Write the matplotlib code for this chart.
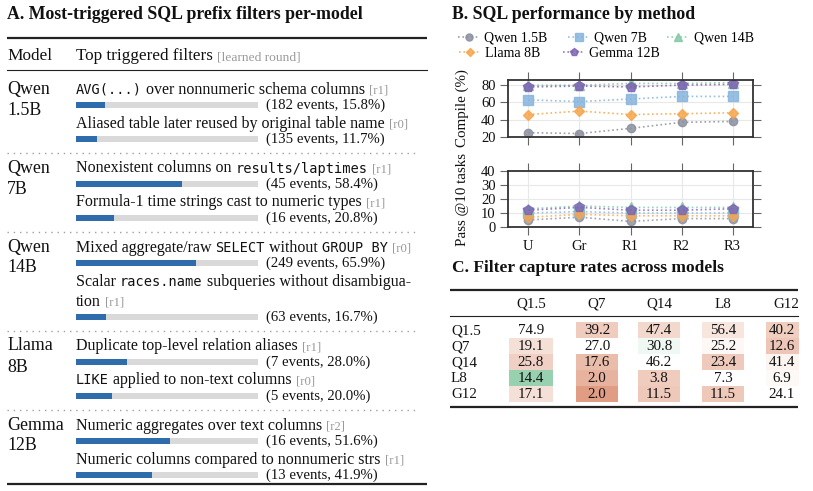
import matplotlib
matplotlib.use('Agg')
import matplotlib.pyplot as plt
from matplotlib.colors import LinearSegmentedColormap, TwoSlopeNorm
from matplotlib.patches import Rectangle
from matplotlib.font_manager import FontProperties
import numpy as np

SERIF = 'Liberation Serif'
MONO = 'DejaVu Sans Mono'
plt.rcParams['font.family'] = [SERIF, 'DejaVu Sans']

# ---------------- Panel A data ----------------
model_names = ["Qwen\n1.5B", "Qwen\n7B", "Qwen\n14B", "Llama\n8B", "Gemma\n12B"]
filter_texts = [
    "`AVG(...)` over nonnumeric schema columns",
    "Aliased table later reused by original table name",
    "Nonexistent columns on `results/laptimes`",
    "Formula-1 time strings cast to numeric types",
    "Mixed aggregate/raw `SELECT` without `GROUP BY`",
    "Scalar `races.name` subqueries without disambigua-\ntion",
    "Duplicate top-level relation aliases",
    "`LIKE` applied to non-text columns",
    "Numeric aggregates over text columns",
    "Numeric columns compared to nonnumeric strs",
]
filter_rounds = ["r1", "r0", "r1", "r1", "r0", "r1", "r1", "r0", "r2", "r1"]
filter_events = [182, 135, 45, 16, 249, 63, 7, 5, 16, 13]
filter_pcts = [15.8, 11.7, 58.4, 20.8, 65.9, 16.7, 28.0, 20.0, 51.6, 41.9]

# ---------------- Panel B data ----------------
methods = ["U", "Gr", "R1", "R2", "R3"]
series_names = ["Qwen 1.5B", "Qwen 7B", "Qwen 14B", "Llama 8B", "Gemma 12B"]
compile_q15 = [25, 24, 30, 37, 38]
compile_q7 = [63, 61, 64, 67, 67]
compile_q14 = [80, 80, 82, 82, 83]
compile_l8 = [46, 50, 46, 47, 48]
compile_g12 = [78, 79, 78, 80, 81]
pass_q15 = [5, 7, 4, 6, 6]
pass_q7 = [10, 11, 10, 10, 10]
pass_q14 = [13, 15, 14, 14, 14]
pass_l8 = [7, 9, 8, 8, 8]
pass_g12 = [12, 14, 12, 12, 13]

# ---------------- Panel C data ----------------
cap_labels = ["Q1.5", "Q7", "Q14", "L8", "G12"]
cap_q15 = [74.9, 39.2, 47.4, 56.4, 40.2]
cap_q7 = [19.1, 27.0, 30.8, 25.2, 12.6]
cap_q14 = [25.8, 17.6, 46.2, 23.4, 41.4]
cap_l8 = [14.4, 2.0, 3.8, 7.3, 6.9]
cap_g12 = [17.1, 2.0, 11.5, 11.5, 24.1]

W, H = 813, 491
fig = plt.figure(figsize=(W / 100, H / 100), dpi=100)
fig.patch.set_facecolor('white')
renderer = fig.canvas.get_renderer()

ov = fig.add_axes([0, 0, 1, 1])
ov.set_xlim(0, W)
ov.set_ylim(H, 0)
ov.axis('off')

TXT = '#111111'
GRAY = '#9a9a9a'
BODY = 11.5
CODE = 9.8
TAG = 9.2
TITLE = 12.8


def fp_for(kind, size):
    if kind == 'c':
        return FontProperties(family=MONO, size=CODE)
    if kind == 'g':
        return FontProperties(family=SERIF, size=TAG)
    return FontProperties(family=SERIF, size=size)


def text_width(s, fp):
    w1, _, _ = renderer.get_text_width_height_descent('|' + s + '|', fp, ismath=False)
    w0, _, _ = renderer.get_text_width_height_descent('||', fp, ismath=False)
    return w1 - w0


def parse(s):
    parts = s.split('`')
    segs = []
    for i, p in enumerate(parts):
        if p:
            segs.append((p, 'c' if i % 2 else 'n'))
    return segs


def draw_segs(x, y, segs, size):
    for txt, kind in segs:
        fp = fp_for(kind, size)
        ov.text(x, y, txt, va='baseline', ha='left', fontproperties=fp,
                color=GRAY if kind == 'g' else TXT)
        x += text_width(txt, fp)
    return x


# ---------------- Panel A ----------------
ov.text(7, 14, "A. Most-triggered SQL prefix filters per-model", fontsize=TITLE,
        fontweight='bold', va='center', ha='left', color=TXT)
ov.plot([7, 427], [38, 38], color='#222', lw=1.6, solid_capstyle='butt')
ov.text(7, 60, "Model", fontsize=12.4, va='baseline', ha='left', color=TXT)
xh = draw_segs(76, 60, [("Top triggered filters ", 'n')], 12.3)
ov.text(xh, 60, "[learned round]", fontsize=9.7, va='baseline', ha='left', color=GRAY)
ov.plot([7, 427], [70, 70], color='#222', lw=0.8)

axbar = fig.add_axes([76 / W, 0, 182 / W, 1])
axbar.set_xlim(0, 100)
axbar.set_ylim(H, 0)
axbar.axis('off')

r = 88
for m in range(len(model_names)):
    top, bot = model_names[m].split('\n')
    ov.text(7, r + 5.5, top, fontsize=12.9, va='baseline', ha='left', color=TXT)
    ov.text(7, r + 26.5, bot, fontsize=12.9, va='baseline', ha='left', color=TXT)
    y = r
    for k in range(2):
        i = 2 * m + k
        lines = filter_texts[i].split('\n')
        for li, line in enumerate(lines):
            segs = parse(line)
            if li == len(lines) - 1:
                segs = segs + [(" ", 'n')]
                xe = draw_segs(76, y + 5.5, segs, BODY)
                draw_segs(xe, y + 5.5, [("[" + filter_rounds[i] + "]", 'g')], BODY)
            else:
                draw_segs(76, y + 5.5, segs, BODY)
                y += 20
        yb = y + 17
        axbar.barh(yb, 100, height=6, color='#d9d9d9', lw=0)
        axbar.barh(yb, filter_pcts[i], height=6, color='#2f6cab', lw=0)
        ov.text(266, yb + 4, f"({filter_events[i]} events, {filter_pcts[i]:.1f}%)",
                fontsize=10.6, va='baseline', ha='left', color=TXT)
        y = yb + 17
    bar2 = y - 17
    if m < len(model_names) - 1:
        ov.plot([7, 415], [bar2 + 14, bar2 + 14], color='#a0a0a0', lw=1.0,
                linestyle=(0, (1, 3.5)))
        r = bar2 + 28
    else:
        ov.plot([7, 427], [bar2 + 9, bar2 + 9], color='#222', lw=1.6,
                solid_capstyle='butt')

# ---------------- Panel B ----------------
ov.text(452, 14, "B. SQL performance by method", fontsize=TITLE, fontweight='bold',
        va='center', ha='left', color=TXT)

colors = ['#8b8f9e', '#86b4dc', '#81c8a4', '#f7a54a', '#7d63b3']
markers = ['o', 's', '^', 'D', 'p']
msizes = [6, 6.5, 7, 5, 7]
compile_series = [compile_q15, compile_q7, compile_q14, compile_l8, compile_g12]
pass_series = [pass_q15, pass_q7, pass_q14, pass_l8, pass_g12]

axc = fig.add_axes([508 / W, 1 - 137 / H, 245 / W, 57 / H])
axp = fig.add_axes([508 / W, 1 - 227 / H, 245 / W, 56 / H])
xs = np.arange(len(methods))
handles = []
for j in range(5):
    h, = axc.plot(xs, compile_series[j], linestyle=':', color=colors[j], lw=1.2,
                  marker=markers[j], ms=msizes[j], alpha=0.85, label=series_names[j])
    axp.plot(xs, pass_series[j], linestyle=':', color=colors[j], lw=1.2,
             marker=markers[j], ms=msizes[j], alpha=0.8)
    handles.append(h)

for ax, lab, yt, yl in ((axc, "Compile (%)", [20, 40, 60, 80], (20, 86)),
                        (axp, "Pass @10 tasks", [0, 10, 20, 30, 40], (0, 40))):
    ax.set_xlim(-0.4, 4.4)
    ax.set_ylim(*yl)
    ax.set_yticks(yt)
    ax.set_xticks(xs)
    ax.set_xticklabels(methods, family=SERIF)
    ax.grid(True, color='#e8e8e8', lw=0.8)
    ax.set_axisbelow(True)
    ax.tick_params(direction='out', length=6, width=0.8, color='#666',
                   top=True, right=True, labelsize=10.5, labelcolor=TXT, pad=3)
    for s in ax.spines.values():
        s.set_color('#333')
        s.set_linewidth(1.3)
    ax.set_ylabel(lab, fontsize=10.8, color=TXT, family=SERIF)
    ax.yaxis.set_label_coords(-0.16, 0.5)
axc.tick_params(labelbottom=False)

leg_kw = dict(loc='upper left', frameon=False, prop=FontProperties(family=SERIF, size=10),
              borderaxespad=0, borderpad=0, handlelength=1.6, handletextpad=0.3,
              markerscale=0.85)
fig.legend(handles[:3], series_names[:3], ncol=3,
           bbox_to_anchor=(458 / W, 1 - 32 / H), columnspacing=1.45, **leg_kw)
fig.legend(handles[3:], series_names[3:], ncol=2,
           bbox_to_anchor=(459 / W, 1 - 47 / H), columnspacing=1.6, **leg_kw)

# ---------------- Panel C ----------------
ov.text(452, 268, "C. Filter capture rates across models", fontsize=12.5,
        fontweight='bold', va='center', ha='left', color=TXT)
ov.plot([450, 798], [290, 290], color='#222', lw=1.6, solid_capstyle='butt')
ov.plot([450, 798], [316, 316], color='#222', lw=0.8)
ov.plot([450, 798], [407, 407], color='#222', lw=1.6, solid_capstyle='butt')

col_x = [531, 597, 659, 723, 782]
col_w = [44, 42, 42, 42, 33]
row_y = [330, 346, 362, 378, 394]
cap_rows = [cap_q15, cap_q7, cap_q14, cap_l8, cap_g12]
cmap = LinearSegmentedColormap.from_list('dv', ['#de9579', '#ffffff', '#94d0ad'])
norm = TwoSlopeNorm(vmin=-1.0, vcenter=0.0, vmax=1.0)

for c, lab in enumerate(cap_labels):
    ov.text(col_x[c] + (4 if c == 4 else 0), 308, lab, fontsize=10.8, ha='center',
            va='baseline', color=TXT)
for rr, lab in enumerate(cap_labels):
    ov.text(451, row_y[rr] + 4.5, lab, fontsize=10.8, ha='left', va='baseline', color=TXT)
    diag = cap_rows[rr][rr]
    for c in range(5):
        v = cap_rows[rr][c]
        if c != rr:
            rel = np.clip((v - diag) / diag, -1, 1)
            ov.add_patch(Rectangle((col_x[c] - col_w[c] / 2, row_y[rr] - 8), col_w[c], 16,
                                   facecolor=cmap(norm(rel)), edgecolor='none', zorder=1))
        ov.text(col_x[c], row_y[rr] + 4.5, f"{v:.1f}", fontsize=10.8, ha='center',
                va='baseline', color=TXT, zorder=3)

fig.savefig('out.png', dpi=100)
